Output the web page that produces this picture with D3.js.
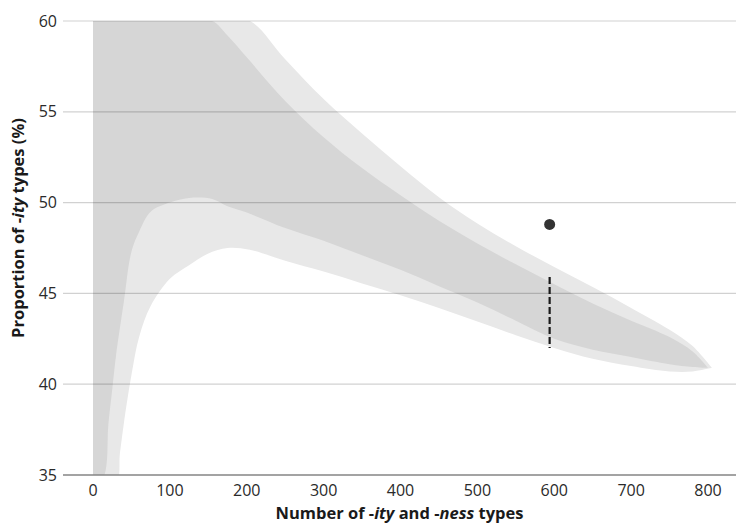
<!DOCTYPE html>
<html>
<head>
<meta charset="utf-8">
<script src="https://cdn.jsdelivr.net/npm/d3@7"></script>
<style>
  body { margin: 0; background: #fff; }
  text { font-family: "Open Sans", Lato, sans-serif; }
</style>
</head>
<body>
<div id="chart"></div>
<script>
// outer (light) interval
var lightX  = [0, 30, 35, 40, 50, 60, 75, 100, 125, 150, 175, 204, 250, 300, 350, 400, 450, 500, 550, 600, 650, 700, 750, 780, 805];
var lightHi = [60, 60, 60, 60, 60, 60, 60, 60, 60, 60, 60, 60, 57.9, 55.7, 53.8, 52.0, 50.3, 48.85, 47.6, 46.45, 45.35, 44.2, 43.0, 42.1, 40.9];
var lightLo = [34, 34.5, 36.2, 37.8, 40.5, 42.6, 44.3, 45.8, 46.55, 47.2, 47.5, 47.4, 46.8, 46.2, 45.55, 44.9, 44.2, 43.45, 42.7, 42.0, 41.4, 41.0, 40.7, 40.7, 40.9];

// inner (dark) interval
var darkX  = [0, 15, 20, 25, 30, 40, 50, 60, 75, 100, 125, 155, 175, 200, 250, 300, 350, 400, 450, 500, 550, 600, 650, 700, 750, 780, 800];
var darkHi = [60, 60, 60, 60, 60, 60, 60, 60, 60, 60, 60, 60, 59.2, 58.0, 55.6, 53.6, 51.9, 50.4, 49.0, 47.75, 46.6, 45.5, 44.45, 43.5, 42.6, 41.8, 40.9];
var darkLo = [34, 35, 37.8, 39.7, 41.6, 44.5, 47.3, 48.4, 49.5, 50.0, 50.25, 50.2, 49.8, 49.45, 48.6, 47.9, 47.1, 46.3, 45.4, 44.5, 43.5, 42.5, 41.9, 41.5, 41.1, 40.95, 40.9];

// observed value and its range
var observed = { x: 594, y: 48.8 };
var observedRange = { x: 594, lo: 42.0, hi: 45.9 };

var xTicks = [0, 100, 200, 300, 400, 500, 600, 700, 800];
var yTicks = [35, 40, 45, 50, 55, 60];

var width = 736, height = 525;
var plotLeft = 63, plotRight = 736, plotTop = 21, plotBottom = 475;

var svg = d3.select('#chart').append('svg')
  .attr('width', width)
  .attr('height', height);

var x = d3.scaleLinear().domain([0, 800]).range([93, 708]);
var y = d3.scaleLinear().domain([35, 60]).range([plotBottom, plotTop]);

svg.append('clipPath').attr('id', 'plot-clip')
  .append('rect')
  .attr('x', plotLeft).attr('y', plotTop)
  .attr('width', plotRight - plotLeft).attr('height', plotBottom - plotTop);

// catmull-rom keeps the edges smooth; any overshoot above 60 is clipped
function bandArea(xs) {
  return d3.area()
    .x(function(d, i) { return x(xs[i]); })
    .y0(function(d) { return y(d[0]); })
    .y1(function(d) { return y(d[1]); })
    .curve(d3.curveCatmullRom.alpha(0.5));
}

var bands = svg.append('g').attr('clip-path', 'url(#plot-clip)');

bands.append('path')
  .datum(lightLo.map(function(v, i) { return [v, lightHi[i]]; }))
  .attr('d', bandArea(lightX))
  .attr('fill', '#e8e8e8');

bands.append('path')
  .datum(darkLo.map(function(v, i) { return [v, darkHi[i]]; }))
  .attr('d', bandArea(darkX))
  .attr('fill', '#d6d6d6');

// gridlines over the bands
svg.selectAll('.grid')
  .data(yTicks.filter(function(d) { return d > 35; }))
  .enter().append('line')
  .attr('class', 'grid')
  .attr('x1', plotLeft).attr('x2', plotRight)
  .attr('y1', function(d) { return y(d); })
  .attr('y2', function(d) { return y(d); })
  .attr('stroke', 'rgba(0,0,0,0.18)')
  .attr('stroke-width', 1.2);

svg.append('line')
  .attr('x1', plotLeft).attr('x2', plotRight)
  .attr('y1', y(35)).attr('y2', y(35))
  .attr('stroke', '#858585')
  .attr('stroke-width', 1.5);

// observed range and point
svg.append('line')
  .attr('x1', x(observedRange.x)).attr('x2', x(observedRange.x))
  .attr('y1', y(observedRange.hi)).attr('y2', y(observedRange.lo))
  .attr('stroke', '#1a1a1a')
  .attr('stroke-width', 2.2)
  .attr('stroke-dasharray', '7,3');

svg.append('circle')
  .attr('cx', x(observed.x))
  .attr('cy', y(observed.y))
  .attr('r', 5.5)
  .attr('fill', '#333');

// tick labels
svg.selectAll('.ylab')
  .data(yTicks)
  .enter().append('text')
  .attr('class', 'ylab')
  .attr('x', 57)
  .attr('y', function(d) { return y(d); })
  .attr('dy', '0.35em')
  .attr('text-anchor', 'end')
  .attr('font-size', 16)
  .attr('fill', '#2a2a2a')
  .text(function(d) { return d; });

svg.selectAll('.xlab')
  .data(xTicks)
  .enter().append('text')
  .attr('class', 'xlab')
  .attr('x', function(d) { return x(d); })
  .attr('y', 490)
  .attr('dy', '0.35em')
  .attr('text-anchor', 'middle')
  .attr('font-size', 16)
  .attr('fill', '#2a2a2a')
  .text(function(d) { return d; });

// axis titles
var xTitle = svg.append('text')
  .attr('x', (plotLeft + plotRight) / 2)
  .attr('y', 519)
  .attr('text-anchor', 'middle')
  .attr('font-size', 16.5)
  .attr('font-weight', 'bold')
  .attr('fill', '#1a1a1a');
xTitle.append('tspan').text('Number of -');
xTitle.append('tspan').attr('font-style', 'italic').text('ity');
xTitle.append('tspan').text(' and -');
xTitle.append('tspan').attr('font-style', 'italic').text('ness');
xTitle.append('tspan').text(' types');

var yTitle = svg.append('text')
  .attr('transform', 'translate(24,228) rotate(-90)')
  .attr('text-anchor', 'middle')
  .attr('font-size', 16.5)
  .attr('font-weight', 'bold')
  .attr('fill', '#1a1a1a');
yTitle.append('tspan').text('Proportion of -');
yTitle.append('tspan').attr('font-style', 'italic').text('ity');
yTitle.append('tspan').text(' types (%)');
</script>
</body>
</html>
